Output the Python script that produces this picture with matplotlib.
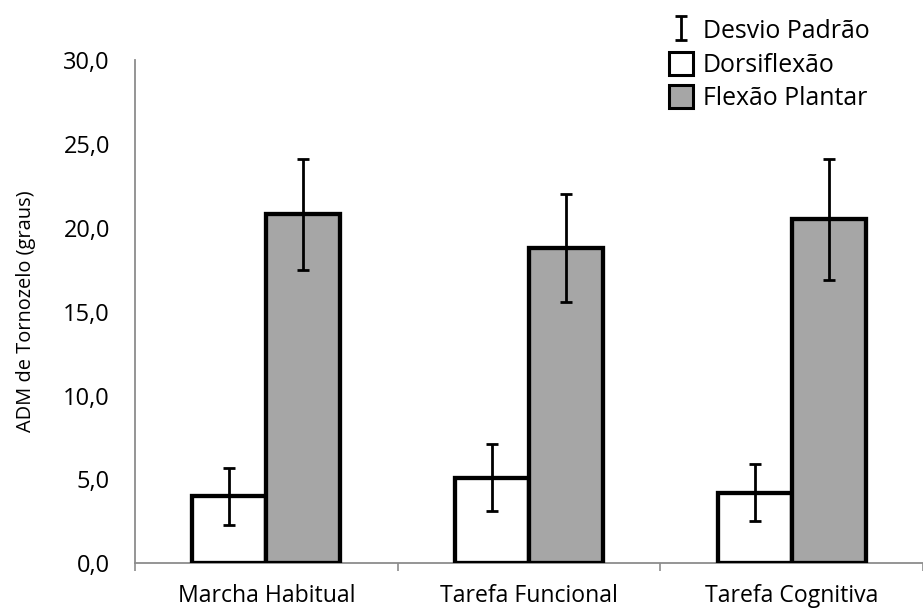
import numpy as np
import matplotlib.pyplot as plt
from matplotlib.patches import Patch
import matplotlib.ticker as ticker

# data
categories = ['Marcha Habitual', 'Tarefa Funcional', 'Tarefa Cognitiva']
dorsi_mean = [4.0, 5.1, 4.2]
dorsi_sd = [1.7, 2.0, 1.7]
plantar_mean = [20.8, 18.8, 20.5]
plantar_sd = [3.3, 3.2, 3.6]
y_ticks = [0, 5, 10, 15, 20, 25, 30]

plt.rcParams['font.family'] = ['Open Sans', 'DejaVu Sans']
FS_CAT = 16.6
FS_Y = 17
FS_YLAB = 14.4
FS_LEG = 17.9

fig = plt.figure(figsize=(9.23, 6.10), dpi=100, facecolor='white')
ax = fig.add_axes([135 / 923, 46.7 / 610, 788 / 923, 503.3 / 610])

x = np.arange(len(categories))
w = 0.282

ax.bar(x - w / 2, dorsi_mean, w, color='white', edgecolor='black',
       linewidth=3.1, zorder=3, label='Dorsiflexão')
ax.bar(x + w / 2, plantar_mean, w, color='#A6A6A6', edgecolor='black',
       linewidth=3.1, zorder=3, label='Flexão Plantar')

# error bars for both series in one call
ex = np.concatenate([x - w / 2, x + w / 2])
ey = dorsi_mean + plantar_mean
eerr = dorsi_sd + plantar_sd
eb = ax.errorbar(ex, ey, yerr=eerr, fmt='none', ecolor='black',
                 elinewidth=2.0, capsize=4.4, capthick=2.0, zorder=4)

ax.set_xlim(-0.5, -0.5 + 788 / 265.5)
ax.set_ylim(0, 30)

# y axis
ax.set_yticks(y_ticks)
ax.yaxis.set_major_formatter(ticker.FuncFormatter(lambda v, p: f'{v:.1f}'.replace('.', ',')))
ax.tick_params(axis='y', length=0, pad=18, labelsize=FS_Y)
ax.set_ylabel('ADM de Tornozelo (graus)', fontsize=FS_YLAB, labelpad=19.5)

# x axis: tick marks between groups, labels at group centres
ax.set_xticks(np.arange(len(categories) + 1) - 0.5)
ax.set_xticklabels([])
ax.set_xticks(x, minor=True)
ax.set_xticklabels(categories, minor=True)
ax.tick_params(axis='x', which='major', length=6, width=1.2, color='#8C8C8C', direction='out')
ax.tick_params(axis='x', which='minor', length=0, pad=15, labelsize=FS_CAT)

for s in ['top', 'right']:
    ax.spines[s].set_visible(False)
for s in ['left', 'bottom']:
    ax.spines[s].set_color('#8C8C8C')
    ax.spines[s].set_linewidth(1.3)

handles = [eb,
           Patch(facecolor='white', edgecolor='black', linewidth=2.2),
           Patch(facecolor='#A6A6A6', edgecolor='black', linewidth=2.2)]
labels = ['Desvio Padrão', 'Dorsiflexão', 'Flexão Plantar']
fig.legend(handles, labels, loc='upper left', bbox_to_anchor=(669 / 923, 1 - 18 / 610),
           frameon=False, fontsize=FS_LEG, handlelength=0.96, handleheight=1.04,
           handletextpad=0.4, labelspacing=0.31, borderpad=0, borderaxespad=0)

fig.savefig('out.png', dpi=100, facecolor='white')
